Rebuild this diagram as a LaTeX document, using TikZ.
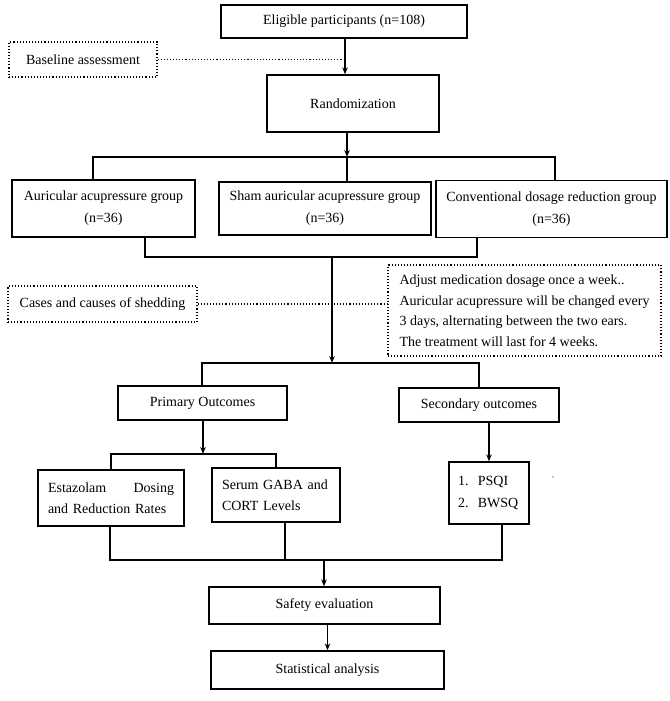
\documentclass[tikz,border=0pt]{standalone}
\usepackage{fontspec}
\setmainfont{Liberation Serif}
\usetikzlibrary{arrows.meta}
\begin{document}
\begin{tikzpicture}[x=1pt,y=-1pt,
  box/.style={draw,line width=1.3pt,inner sep=0pt,align=center,font=\fontsize{14}{20.5}\selectfont},
  dbox/.style={draw,dotted,line width=1.1pt,inner sep=0pt,align=center,font=\fontsize{14}{20.5}\selectfont},
  ln/.style={line width=1.3pt},
  arr/.style={line width=1.3pt,-{Stealth[length=7pt,width=5.5pt]}},
  dl/.style={dotted,line width=1.1pt}]
\useasboundingbox (0,0) rectangle (669,701);
% nodes
\node[box,minimum width=246pt,minimum height=33pt] (elig) at (344,21.5) {Eligible participants (n=108)};
\node[dbox,minimum width=148pt,minimum height=35pt] (base) at (83,59.5) {Baseline assessment};
\node[box,minimum width=172pt,minimum height=57pt] (rand) at (353,103.5) {Randomization};
\node[box,minimum width=183pt,minimum height=57pt,font=\fontsize{14}{22}\selectfont] (g1) at (103.5,208.5) {Auricular acupressure group\\(n=36)};
\node[box,minimum width=212pt,minimum height=53pt,font=\fontsize{14}{22}\selectfont] (g2) at (325,208.5) {Sham auricular acupressure group\\(n=36)};
\node[box,minimum width=231pt,minimum height=57pt,font=\fontsize{14}{22}\selectfont] (g3) at (551.5,209) {Conventional dosage reduction group\\(n=36)};
\node[dbox,minimum width=189pt,minimum height=36pt] (cases) at (102.5,304) {Cases and causes of shedding};
\node[dbox,minimum width=273pt,minimum height=91pt,align=left] (adj) at (524.5,310.5) {Adjust medication dosage once a week..\\Auricular acupressure will be changed every\\3 days, alternating between the two ears.\\The treatment will last for 4 weeks.};
\node[box,minimum width=169pt,minimum height=34pt] (pri) at (202.5,403) {Primary Outcomes};
\node[box,minimum width=160pt,minimum height=34pt] (sec) at (479,405) {Secondary outcomes};
\node[box,minimum width=146pt,minimum height=56pt,text width=126pt,align=left] (est) at (111,498) {Estazolam\hfill Dosing\\and Reduction Rates};
\node[box,minimum width=128pt,minimum height=54pt,text width=108pt,align=left] (ser) at (276,495) {Serum GABA and\\CORT Levels};
\node[box,minimum width=80pt,minimum height=62pt,text width=62pt,align=left,font=\fontsize{14}{22}\selectfont] (psqi) at (489,493) {1.\ \ PSQI\\2.\ \ BWSQ};
\node[box,minimum width=231pt,minimum height=37pt] (safe) at (324.5,605.5) {Safety evaluation};
\node[box,minimum width=233pt,minimum height=38pt] (stat) at (327.5,670) {Statistical analysis};
% junction coordinates
\coordinate (bj) at (345,59.5);
\coordinate (jA) at (347,157);
\coordinate (jL) at (93,157);
\coordinate (jR) at (555,157);
\coordinate (kL) at (145,257);
\coordinate (kR) at (477,257);
\coordinate (kM) at (332,257);
\coordinate (mM) at (332,363);
\coordinate (mL) at (202,363);
\coordinate (mR) at (479,363);
\coordinate (nM) at (203,454);
\coordinate (pL) at (110,560);
\coordinate (pR) at (502,560);
\coordinate (pS) at (285,560);
\coordinate (qM) at (324,560);
\coordinate (spk) at (553,477);
% connectors
\draw[arr] (elig.south -| bj) -- (rand.north -| bj);
\draw[dl] (base.east) -- (bj);
\draw[arr] (rand.south -| jA) -- (jA);
\draw[ln] (g1.north -| jL) -- (jL) -- (jR) -- (g3.north -| jR);
\draw[ln] (jA) -- (g2.north -| jA);
\draw[ln] (g1.south -| kL) -- (kL) -- (kR) -- (g3.south -| kR);
\draw[arr] (kM) -- (mM);
\draw[dl] (cases.east) -- (adj.west |- cases.east);
\draw[ln] (pri.north -| mL) -- (mL) -- (mR) -- (sec.north -| mR);
\draw[arr] (pri.south -| nM) -- (nM);
\draw[ln] (est.north) -- (est.north |- nM) -- (ser.north |- nM) -- (ser.north);
\draw[arr] (sec.south -| psqi.north) -- (psqi.north);
\draw[ln] (est.south -| pL) -- (pL) -- (pR) -- (psqi.south -| pR);
\draw[ln] (ser.south -| pS) -- (pS);
\draw[arr] (qM) -- (safe.north -| qM);
\draw[arr] (safe.south -| stat.north) -- (stat.north);
\fill (spk) circle (0.7pt);
\end{tikzpicture}
\end{document}
